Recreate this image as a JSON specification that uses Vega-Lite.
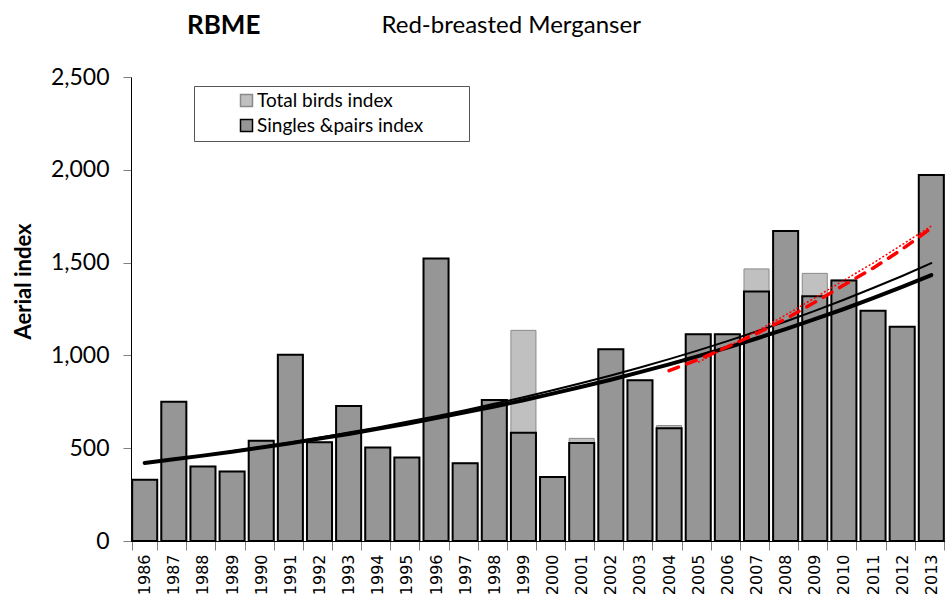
{
  "$schema": "https://vega.github.io/schema/vega-lite/v6.json",
  "width": 814,
  "height": 464,
  "autosize": {"type": "none"},
  "padding": {"left": 131, "top": 77, "right": 0, "bottom": 61},
  "background": "white",
  "config": {
    "view": {"stroke": null},
    "font": "Lato",
    "axis": {"grid": false}
  },
  "title": {
    "text": "RBME",
    "anchor": "start",
    "frame": "group",
    "dx": 56,
    "offset": -47,
    "font": "Lato",
    "fontSize": 26,
    "fontWeight": "bold",
    "color": "black",
    "baseline": "alphabetic"
  },
  "datasets": {
    "bars": [
      {"year": "1986", "series": "Total birds  index", "value": 330},
      {"year": "1987", "series": "Total birds  index", "value": 750},
      {"year": "1988", "series": "Total birds  index", "value": 402},
      {"year": "1989", "series": "Total birds  index", "value": 375},
      {"year": "1990", "series": "Total birds  index", "value": 540},
      {"year": "1991", "series": "Total birds  index", "value": 1003},
      {"year": "1992", "series": "Total birds  index", "value": 532},
      {"year": "1993", "series": "Total birds  index", "value": 727},
      {"year": "1994", "series": "Total birds  index", "value": 504},
      {"year": "1995", "series": "Total birds  index", "value": 450},
      {"year": "1996", "series": "Total birds  index", "value": 1522},
      {"year": "1997", "series": "Total birds  index", "value": 419},
      {"year": "1998", "series": "Total birds  index", "value": 760},
      {"year": "1999", "series": "Total birds  index", "value": 1135},
      {"year": "2000", "series": "Total birds  index", "value": 345},
      {"year": "2001", "series": "Total birds  index", "value": 553},
      {"year": "2002", "series": "Total birds  index", "value": 1033},
      {"year": "2003", "series": "Total birds  index", "value": 866},
      {"year": "2004", "series": "Total birds  index", "value": 622},
      {"year": "2005", "series": "Total birds  index", "value": 1114},
      {"year": "2006", "series": "Total birds  index", "value": 1114},
      {"year": "2007", "series": "Total birds  index", "value": 1466},
      {"year": "2008", "series": "Total birds  index", "value": 1670},
      {"year": "2009", "series": "Total birds  index", "value": 1442},
      {"year": "2010", "series": "Total birds  index", "value": 1406},
      {"year": "2011", "series": "Total birds  index", "value": 1241},
      {"year": "2012", "series": "Total birds  index", "value": 1155},
      {"year": "2013", "series": "Total birds  index", "value": 1972},
      {"year": "1986", "series": "Singles &pairs index", "value": 330},
      {"year": "1987", "series": "Singles &pairs index", "value": 750},
      {"year": "1988", "series": "Singles &pairs index", "value": 402},
      {"year": "1989", "series": "Singles &pairs index", "value": 375},
      {"year": "1990", "series": "Singles &pairs index", "value": 540},
      {"year": "1991", "series": "Singles &pairs index", "value": 1003},
      {"year": "1992", "series": "Singles &pairs index", "value": 532},
      {"year": "1993", "series": "Singles &pairs index", "value": 727},
      {"year": "1994", "series": "Singles &pairs index", "value": 504},
      {"year": "1995", "series": "Singles &pairs index", "value": 450},
      {"year": "1996", "series": "Singles &pairs index", "value": 1522},
      {"year": "1997", "series": "Singles &pairs index", "value": 419},
      {"year": "1998", "series": "Singles &pairs index", "value": 760},
      {"year": "1999", "series": "Singles &pairs index", "value": 583},
      {"year": "2000", "series": "Singles &pairs index", "value": 345},
      {"year": "2001", "series": "Singles &pairs index", "value": 528},
      {"year": "2002", "series": "Singles &pairs index", "value": 1033},
      {"year": "2003", "series": "Singles &pairs index", "value": 866},
      {"year": "2004", "series": "Singles &pairs index", "value": 608},
      {"year": "2005", "series": "Singles &pairs index", "value": 1114},
      {"year": "2006", "series": "Singles &pairs index", "value": 1114},
      {"year": "2007", "series": "Singles &pairs index", "value": 1344},
      {"year": "2008", "series": "Singles &pairs index", "value": 1670},
      {"year": "2009", "series": "Singles &pairs index", "value": 1319},
      {"year": "2010", "series": "Singles &pairs index", "value": 1403},
      {"year": "2011", "series": "Singles &pairs index", "value": 1241},
      {"year": "2012", "series": "Singles &pairs index", "value": 1155},
      {"year": "2013", "series": "Singles &pairs index", "value": 1972}
    ],
    "trends": [
      {"year": "1986", "line": "thin", "value": 420},
      {"year": "1987", "line": "thin", "value": 440},
      {"year": "1988", "line": "thin", "value": 461},
      {"year": "1989", "line": "thin", "value": 484},
      {"year": "1990", "line": "thin", "value": 507},
      {"year": "1991", "line": "thin", "value": 531},
      {"year": "1992", "line": "thin", "value": 557},
      {"year": "1993", "line": "thin", "value": 584},
      {"year": "1994", "line": "thin", "value": 612},
      {"year": "1995", "line": "thin", "value": 642},
      {"year": "1996", "line": "thin", "value": 672},
      {"year": "1997", "line": "thin", "value": 705},
      {"year": "1998", "line": "thin", "value": 739},
      {"year": "1999", "line": "thin", "value": 774},
      {"year": "2000", "line": "thin", "value": 812},
      {"year": "2001", "line": "thin", "value": 851},
      {"year": "2002", "line": "thin", "value": 892},
      {"year": "2003", "line": "thin", "value": 935},
      {"year": "2004", "line": "thin", "value": 980},
      {"year": "2005", "line": "thin", "value": 1027},
      {"year": "2006", "line": "thin", "value": 1077},
      {"year": "2007", "line": "thin", "value": 1129},
      {"year": "2008", "line": "thin", "value": 1183},
      {"year": "2009", "line": "thin", "value": 1240},
      {"year": "2010", "line": "thin", "value": 1300},
      {"year": "2011", "line": "thin", "value": 1363},
      {"year": "2012", "line": "thin", "value": 1428},
      {"year": "2013", "line": "thin", "value": 1497},
      {"year": "1986", "line": "thick", "value": 420},
      {"year": "1987", "line": "thick", "value": 440},
      {"year": "1988", "line": "thick", "value": 460},
      {"year": "1989", "line": "thick", "value": 481},
      {"year": "1990", "line": "thick", "value": 504},
      {"year": "1991", "line": "thick", "value": 527},
      {"year": "1992", "line": "thick", "value": 552},
      {"year": "1993", "line": "thick", "value": 577},
      {"year": "1994", "line": "thick", "value": 604},
      {"year": "1995", "line": "thick", "value": 632},
      {"year": "1996", "line": "thick", "value": 662},
      {"year": "1997", "line": "thick", "value": 693},
      {"year": "1998", "line": "thick", "value": 725},
      {"year": "1999", "line": "thick", "value": 758},
      {"year": "2000", "line": "thick", "value": 794},
      {"year": "2001", "line": "thick", "value": 831},
      {"year": "2002", "line": "thick", "value": 869},
      {"year": "2003", "line": "thick", "value": 910},
      {"year": "2004", "line": "thick", "value": 952},
      {"year": "2005", "line": "thick", "value": 996},
      {"year": "2006", "line": "thick", "value": 1042},
      {"year": "2007", "line": "thick", "value": 1091},
      {"year": "2008", "line": "thick", "value": 1142},
      {"year": "2009", "line": "thick", "value": 1195},
      {"year": "2010", "line": "thick", "value": 1250},
      {"year": "2011", "line": "thick", "value": 1308},
      {"year": "2012", "line": "thick", "value": 1369},
      {"year": "2013", "line": "thick", "value": 1433},
      {"year": "2004", "line": "reddash", "value": 918},
      {"year": "2005", "line": "reddash", "value": 978},
      {"year": "2006", "line": "reddash", "value": 1046},
      {"year": "2007", "line": "reddash", "value": 1117},
      {"year": "2008", "line": "reddash", "value": 1197},
      {"year": "2009", "line": "reddash", "value": 1286},
      {"year": "2010", "line": "reddash", "value": 1379},
      {"year": "2011", "line": "reddash", "value": 1470},
      {"year": "2012", "line": "reddash", "value": 1572},
      {"year": "2013", "line": "reddash", "value": 1686},
      {"year": "2005", "line": "reddot", "value": 963},
      {"year": "2006", "line": "reddot", "value": 1045},
      {"year": "2007", "line": "reddot", "value": 1130},
      {"year": "2008", "line": "reddot", "value": 1218},
      {"year": "2009", "line": "reddot", "value": 1310},
      {"year": "2010", "line": "reddot", "value": 1405},
      {"year": "2011", "line": "reddot", "value": 1497},
      {"year": "2012", "line": "reddot", "value": 1597},
      {"year": "2013", "line": "reddot", "value": 1697}
    ]
  },
  "resolve": {"axis": {"x": "independent"}},
  "layer": [
    {
      "data": {"name": "bars"},
      "transform": [{"filter": "datum.series == 'Total birds  index'"}],
      "mark": {"type": "bar", "strokeWidth": 1},
      "encoding": {
        "x": {
          "field": "year", "type": "ordinal",
          "scale": {"paddingInner": 0.14, "paddingOuter": 0.04},
          "axis": {
            "orient": "bottom", "title": null, "labelAngle": -90,
            "labelFont": "DejaVu Sans", "labelFontSize": 16, "labelColor": "black",
            "labelPadding": 4, "tickBand": "extent", "tickSize": 9,
            "tickColor": "#808080", "domainColor": "black"
          }
        },
        "y": {
          "field": "value", "type": "quantitative",
          "stack": null,
          "scale": {"domain": [0, 2500], "nice": false},
          "axis": {
            "values": [0, 500, 1000, 1500, 2000, 2500], "format": ",.0f",
            "title": "Aerial index",
            "labelFont": "Lato", "labelFontSize": 23, "labelColor": "black",
            "labelPadding": 14, "tickSize": 8, "tickColor": "#808080",
            "domainColor": "black",
            "titleFont": "Lato", "titleFontSize": 22, "titleFontWeight": "bold",
            "titleColor": "black", "titleX": -108, "titleY": 204,
            "titleAngle": 270, "titleAlign": "center", "titleBaseline": "middle"
          }
        },
        "fill": {
          "field": "series", "type": "nominal",
          "scale": {"domain": ["Total birds  index", "Singles &pairs index"], "range": ["#C0C0C0", "#969696"]},
          "legend": {
            "orient": "none", "legendX": 63, "legendY": 9,
            "title": "MM", "titleOrient": "right", "titleOpacity": 0,
            "titleFontSize": 17, "titlePadding": 8,
            "symbolType": "square", "symbolSize": 144, "symbolStrokeWidth": 1.5,
            "labelFont": "Lato", "labelFontSize": 19, "labelColor": "black", "labelLimit": 400,
            "rowPadding": 5, "padding": 5, "strokeColor": "#555555",
            "symbolOffset": 38, "labelOffset": 1
          }
        },
        "stroke": {
          "field": "series", "type": "nominal",
          "scale": {"domain": ["Total birds  index", "Singles &pairs index"], "range": ["#8a8a8a", "black"]},
          "legend": {
            "orient": "none", "legendX": 63, "legendY": 9,
            "title": "MM", "titleOrient": "right", "titleOpacity": 0,
            "titleFontSize": 17, "titlePadding": 8,
            "symbolType": "square", "symbolSize": 144, "symbolStrokeWidth": 1.5,
            "labelFont": "Lato", "labelFontSize": 19, "labelColor": "black", "labelLimit": 400,
            "rowPadding": 5, "padding": 5, "strokeColor": "#555555",
            "symbolOffset": 38, "labelOffset": 1
          }
        }
      }
    },
    {
      "data": {"name": "bars"},
      "transform": [{"filter": "datum.series == 'Singles &pairs index'"}],
      "mark": {"type": "bar", "strokeWidth": 2},
      "encoding": {
        "x": {"field": "year", "type": "ordinal", "axis": null},
        "y": {"field": "value", "type": "quantitative", "stack": null},
        "fill": {"field": "series", "type": "nominal"},
        "stroke": {"field": "series", "type": "nominal"}
      }
    },
    {
      "data": {"name": "trends"},
      "transform": [{"filter": "datum.line == 'thin'"}],
      "mark": {"type": "line", "color": "black", "strokeWidth": 2, "strokeCap": "round"},
      "encoding": {
        "x": {
          "field": "year", "type": "ordinal",
          "axis": {
            "orient": "top", "domain": false, "ticks": false, "labels": false,
            "title": "Red-breasted Merganser", "titleFont": "Lato", "titleFontSize": 24,
            "titleFontWeight": "normal", "titleColor": "black",
            "titleX": 250, "titleY": -45, "titleAlign": "left", "titleBaseline": "alphabetic"
          }
        },
        "y": {"field": "value", "type": "quantitative"}
      }
    },
    {
      "data": {"name": "trends"},
      "transform": [{"filter": "datum.line == 'thick'"}],
      "mark": {"type": "line", "color": "black", "strokeWidth": 4, "strokeCap": "round"},
      "encoding": {
        "x": {"field": "year", "type": "ordinal", "axis": null},
        "y": {"field": "value", "type": "quantitative"}
      }
    },
    {
      "data": {"name": "trends"},
      "transform": [{"filter": "datum.line == 'reddash'"}],
      "mark": {"type": "line", "color": "#ff0000", "strokeWidth": 3.5, "strokeDash": [10, 9], "strokeCap": "round"},
      "encoding": {
        "x": {"field": "year", "type": "ordinal", "axis": null},
        "y": {"field": "value", "type": "quantitative"}
      }
    },
    {
      "data": {"name": "trends"},
      "transform": [{"filter": "datum.line == 'reddot'"}],
      "mark": {"type": "line", "color": "#ff0000", "strokeWidth": 1.5, "strokeDash": [2, 2]},
      "encoding": {
        "x": {"field": "year", "type": "ordinal", "axis": null},
        "y": {"field": "value", "type": "quantitative"}
      }
    }
  ]
}
